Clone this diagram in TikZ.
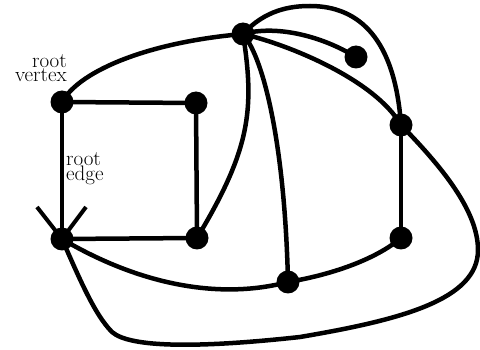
\documentclass[tikz,border=0pt]{standalone}
\begin{document}
\begin{tikzpicture}[x=1pt,y=-1pt,
  edgeline/.style={line width=4.5pt},
  vtx/.style={circle,fill=black,inner sep=0pt,minimum size=23pt},
  lbl/.style={font=\fontsize{21pt}{14.5pt}\selectfont,inner sep=0pt}]
\useasboundingbox (0,0) rectangle (480,350);
\node[vtx] (A) at (62,102) {};
\node[vtx] (B) at (196,103) {};
\node[vtx] (C) at (62,239) {};
\node[vtx] (D) at (197,238) {};
\node[vtx] (E) at (243,34) {};
\node[vtx] (F) at (356,57) {};
\node[vtx] (G) at (401,125) {};
\node[vtx] (H) at (401,238) {};
\node[vtx] (I) at (288,282) {};
\coordinate (T) at (310,6);
\coordinate (R) at (478,250);
\coordinate (S) at (300,337);
\coordinate (U) at (112,332);
\coordinate (V1) at (37,207);
\coordinate (V2) at (86,207);
\node[lbl,align=right,anchor=base east] (rv) at (67,82) {root\\vertex};
\node[lbl,align=left,anchor=base west] (re) at (66,181) {root\\edge};
\begin{scope}[edgeline]
\draw (A.center) -- (B.center);
\draw (A.center) -- (C.center);
\draw (B.center) -- (D.center);
\draw (C.center) -- (D.center);
\draw (G.center) -- (H.center);
\draw (A.center) .. controls (80,70) and (150,42) .. (E.center);
\draw (E.center) .. controls (275,25) and (320,35) .. (F.center);
\draw (E.center) .. controls (265,10) and (290,6) .. (T) .. controls (360,6) and (395,40) .. (G.center);
\draw (E.center) .. controls (290,45) and (375,80) .. (G.center);
\draw (E.center) .. controls (255,110) and (250,150) .. (D.center);
\draw (E.center) .. controls (265,60) and (285,150) .. (I.center);
\draw (C.center) .. controls (140,285) and (220,300) .. (I.center);
\draw (I.center) .. controls (330,275) and (375,260) .. (H.center);
\draw (G.center) .. controls (440,165) and (478,210) .. (R) .. controls (478,300) and (400,320) .. (S) .. controls (200,348) and (130,348) .. (U) .. controls (95,315) and (80,280) .. (C.center);
\draw[line width=4pt] (V1) -- (C.center) -- (V2);
\end{scope}
\end{tikzpicture}
\end{document}
